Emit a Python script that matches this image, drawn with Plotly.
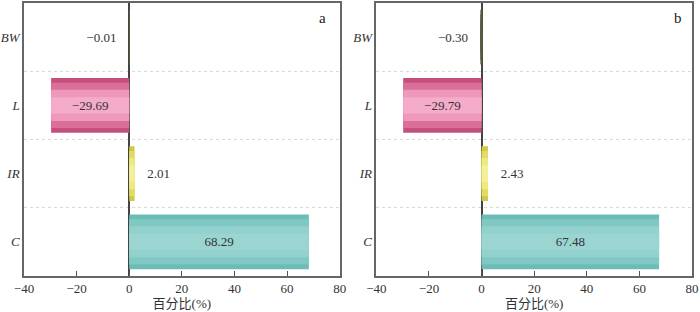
import plotly.graph_objects as go

categories = ["C", "IR", "L", "BW"]
tick_labels = ["<i>C</i>", "<i>IR</i>", "<i>L</i>", "<i>BW</i>"]
values_a = [68.29, 2.01, -29.69, -0.01]
values_b = [67.48, 2.43, -29.79, -0.30]
x_ticks = [-40, -20, 0, 20, 40, 60, 80]

# gradient layers (outer -> inner): per-category colours
layers = [
    (0.80, ["#6bbdb6", "#cfc84a", "#c44f7e", "#5a5a40"]),
    (0.66, ["#80c8c3", "#e2dc62", "#da7099", "#5a5a40"]),
    (0.46, ["#92d1cd", "#eeea80", "#ee98bc", "#5a5a40"]),
    (0.24, ["#9bd5d2", "#f3f09a", "#f5abca", "#5a5a40"]),
]

SERIF = "Liberation Serif"
CJK = "Liberation Serif, Noto Sans CJK SC"
NB = "\u00a0"

fig = go.Figure()

def fmt(v, d=2):
    s = f"{abs(v):.{d}f}"
    return ("\u2212" + s) if v < 0 else s

def label(v, pos):
    if pos == "outside":
        return (NB * 3 + fmt(v)) if v >= 0 else (fmt(v) + NB * 3)
    return fmt(v)

positions = ["inside", "outside", "inside", "outside"]

for panel, vals in (("", values_a), ("2", values_b)):
    for w, cols in layers:
        fig.add_trace(go.Bar(
            x=vals, y=categories, orientation="h",
            width=w, marker=dict(color=cols, line=dict(width=0)),
            xaxis="x" + panel, yaxis="y" + panel,
            showlegend=False, hoverinfo="skip",
        ))
    # transparent label layer
    fig.add_trace(go.Bar(
        x=vals, y=categories, orientation="h", width=0.8,
        marker=dict(color="rgba(0,0,0,0)", line=dict(width=0)),
        xaxis="x" + panel, yaxis="y" + panel,
        text=[label(v, p) for v, p in zip(vals, positions)],
        textposition=positions,
        insidetextanchor="middle", constraintext="none",
        textfont=dict(family=SERIF, size=13, color="#333"),
        cliponaxis=False, showlegend=False, hoverinfo="skip",
    ))

axis_x = dict(
    range=[-40, 80], tickvals=x_ticks, ticktext=[fmt(t, 0) for t in x_ticks],
    ticks="inside", ticklen=5, tickcolor="#555", tickwidth=1.2,
    showline=True, linecolor="#666", linewidth=1.5, mirror=True,
    showgrid=False, zeroline=True, zerolinecolor="#444", zerolinewidth=1.5,
    tickfont=dict(family=SERIF, size=13, color="#333"),
    title=dict(text="百分比(%)", font=dict(family=CJK, size=13, color="#333"), standoff=4),
    fixedrange=True,
)
axis_y = dict(
    categoryorder="array", categoryarray=categories,
    tickvals=categories, ticktext=tick_labels,
    tickson="boundaries", ticks="", showgrid=True, gridcolor="#dadada", griddash="dot", gridwidth=1,
    showline=True, linecolor="#666", linewidth=1.5, mirror=True,
    tickfont=dict(family=SERIF, size=13, color="#333"),
    range=[-0.5, 3.5], fixedrange=True,
)

L, R, T, B = 24, 3, 1, 36
W = 700 - L - R
fig.update_layout(
    width=700, height=312,
    margin=dict(l=L, r=R, t=T, b=B),
    paper_bgcolor="white", plot_bgcolor="white",
    barmode="overlay", bargap=0.2,
    xaxis=dict(axis_x, domain=[0, 318 / W], anchor="y"),
    yaxis=dict(axis_y, anchor="x", domain=[0, 1]),
    xaxis2=dict(axis_x, domain=[(379 - L) / W, 1], anchor="y2"),
    yaxis2=dict(axis_y, anchor="x2", domain=[0, 1]),
    annotations=[
        dict(text="a", xref="x domain", yref="y domain", x=0.945, y=0.945,
             xanchor="center", yanchor="middle", showarrow=False,
             font=dict(family=SERIF, size=15, color="#222")),
        dict(text="b", xref="x2 domain", yref="y2 domain", x=0.955, y=0.945,
             xanchor="center", yanchor="middle", showarrow=False,
             font=dict(family=SERIF, size=15, color="#222")),
    ],
)

fig.write_html("out.html", config={"displayModeBar": False},
               post_script="document.body.style.margin='0';document.body.style.overflow='hidden';")
